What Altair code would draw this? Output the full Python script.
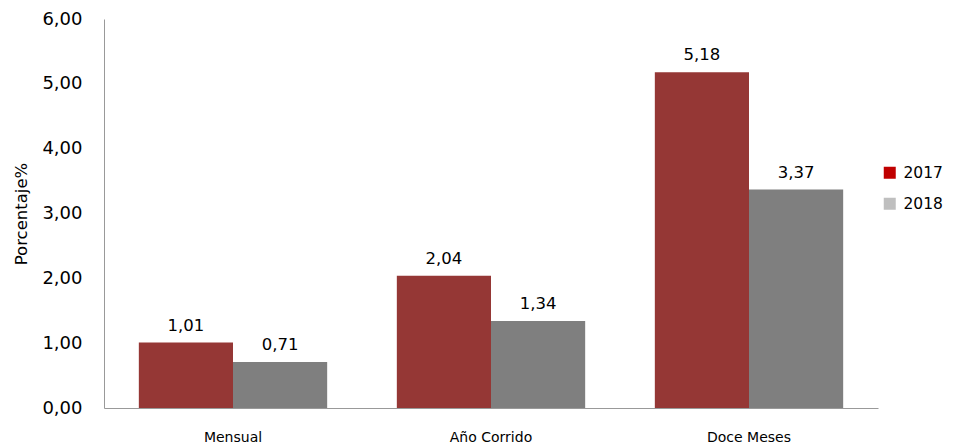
import altair as alt
import pandas as pd

categories = ["Mensual", "Año Corrido", "Doce Meses"]
years = ["2017", "2018"]
values_2017 = [1.01, 2.04, 5.18]
values_2018 = [0.71, 1.34, 3.37]

rows = []
for c, a, b in zip(categories, values_2017, values_2018):
    rows.append({"cat": c, "year": "2017", "value": a})
    rows.append({"cat": c, "year": "2018", "value": b})
df = pd.DataFrame(rows)
df["label"] = df["value"].map(lambda v: f"{v:.2f}".replace(".", ","))
df["year_leg"] = df["year"]

FONT = "DejaVu Sans"

x_enc = alt.X("cat:N", sort=categories,
              scale=alt.Scale(paddingInner=0.27, paddingOuter=0.135),
              axis=alt.Axis(title=None, labelAngle=0, labelFontSize=14, labelPadding=22,
                            ticks=False, domainColor="#999999", labelColor="#000000",
                            labelFont=FONT))
y_enc = alt.Y("value:Q", scale=alt.Scale(domain=[0, 6], nice=False),
              axis=alt.Axis(title="Porcentaje%", values=[0, 1, 2, 3, 4, 5, 6],
                            labelExpr="replace(format(datum.value, '.2f'), '.', ',')",
                            grid=False, ticks=False, domainColor="#999999",
                            labelFontSize=18, labelPadding=22, labelColor="#000000",
                            labelFont=FONT, titleFont=FONT, titleFontSize=16.5,
                            titleFontWeight="normal", titlePadding=12, titleColor="#000000"))

base = alt.Chart(df)

bars = base.mark_bar().encode(
    x=x_enc,
    y=y_enc,
    xOffset=alt.XOffset("year:N", sort=years),
    color=alt.Color("year:N", scale=alt.Scale(domain=years, range=["#953735", "#7F7F7F"]),
                    legend=None),
)

texts = base.mark_text(baseline="bottom", dy=-9, fontSize=16.5, font=FONT, color="#000000").encode(
    x=alt.X("cat:N", sort=categories),
    y="value:Q",
    xOffset=alt.XOffset("year:N", sort=years),
    text="label:N",
)

legend_layer = base.mark_square(opacity=0, size=1).encode(
    x=alt.X("cat:N", sort=categories),
    y="value:Q",
    fill=alt.Fill("year_leg:N", scale=alt.Scale(domain=years, range=["#C00000", "#BFBFBF"]),
                  legend=alt.Legend(title=None, orient="none", legendX=778, legendY=146,
                                    symbolType="square", symbolSize=144, symbolOpacity=1,
                                    symbolStrokeWidth=0, labelFontSize=15.5, labelFont=FONT,
                                    labelColor="#000000", rowPadding=14, labelOffset=6)),
)

chart = alt.layer(bars, texts, legend_layer).resolve_scale(
    color="independent", fill="independent"
).properties(
    width=774, height=389,
    autosize=alt.AutoSizeParams(type="none"),
    padding={"left": 96, "top": 11, "right": 69, "bottom": 38},
).configure_view(stroke=None)

chart.save("out.html", embed_options={"renderer": "svg", "actions": False})
